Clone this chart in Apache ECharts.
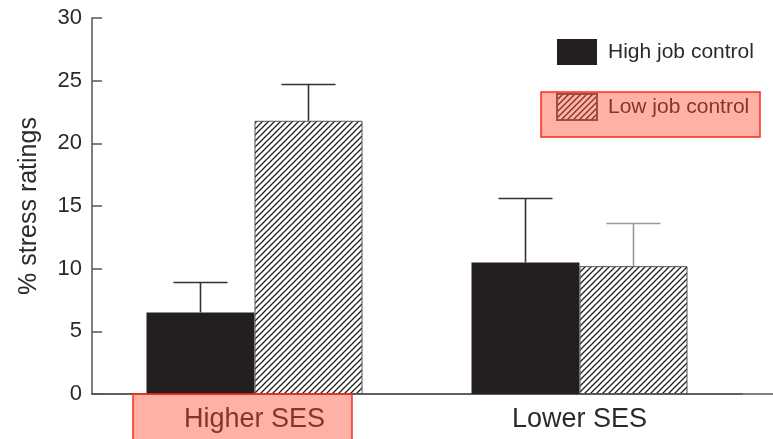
<!DOCTYPE html>
<html>
<head>
<meta charset="utf-8">
<script src="https://cdn.jsdelivr.net/npm/echarts@6/dist/echarts.min.js"></script>
<style>
html,body{margin:0;padding:0;background:#fff;}
#chart{width:773px;height:439px;}
</style>
</head>
<body>
<div id="chart"></div>
<script>
// ---- data ----
const categories = ['Higher SES', 'Lower SES'];
const seriesNames = ['High job control', 'Low job control'];
const highControl = [6.5, 10.5];
const lowControl = [21.8, 10.2];
const highControlErrTop = [8.9, 15.6];
const lowControlErrTop = [24.7, 13.6];
const yMin = 0, yMax = 30, yInterval = 5;
const yAxisName = '% stress ratings';

// ---- styles ----
const FONT = 'Liberation Sans, Arial, sans-serif';
const TXT = '#2a2a2a';
const AXIS = '#555';
const BAR_W = 108;
const CAP = 27;

function hatch(size, lw) {
  const c = document.createElement('canvas');
  c.width = size; c.height = size;
  const g = c.getContext('2d');
  g.fillStyle = '#fff'; g.fillRect(0, 0, size, size);
  g.strokeStyle = '#222'; g.lineWidth = lw;
  g.beginPath();
  g.moveTo(0, size); g.lineTo(size, 0);
  g.moveTo(-1, 1); g.lineTo(1, -1);
  g.moveTo(size - 1, size + 1); g.lineTo(size + 1, size - 1);
  g.stroke();
  return c;
}
const hatchFill = { image: hatch(6, 1.3), repeat: 'repeat' };

function errSeries(vals, tops, side, colors) {
  return {
    type: 'custom',
    name: 'err' + side,
    xAxisIndex: 0, yAxisIndex: 0,
    z: 5,
    data: vals.map((v, i) => [i, v, tops[i]]),
    renderItem: function (params, api) {
      const base = api.coord([api.value(0), api.value(1)]);
      const top = api.coord([api.value(0), api.value(2)]);
      const x = base[0] + side * BAR_W / 2;
      const st = { stroke: colors[params.dataIndex], lineWidth: 1.6 };
      return {
        type: 'group',
        children: [
          { type: 'line', shape: { x1: x, y1: base[1], x2: x, y2: top[1] }, style: st },
          { type: 'line', shape: { x1: x - CAP, y1: top[1], x2: x + CAP, y2: top[1] }, style: st }
        ]
      };
    }
  };
}

const chart = echarts.init(document.getElementById('chart'), null, { renderer: 'canvas' });
chart.setOption({
  animation: false,
  textStyle: { fontFamily: FONT },
  grid: [
    { left: 92, top: 18, height: 376, width: 650 },
    { left: 92, top: 18, height: 376, right: 0 }
  ],
  xAxis: [
    {
      type: 'category', gridIndex: 0, data: categories,
      axisLine: { show: true, lineStyle: { color: AXIS, width: 1.5 } },
      axisTick: { show: false },
      axisLabel: { fontSize: 27, color: TXT, margin: 12, fontFamily: FONT }
    },
    {
      type: 'value', gridIndex: 1, min: 0, max: 1,
      axisLine: { show: true, lineStyle: { color: AXIS, width: 1.5 } },
      axisTick: { show: false }, axisLabel: { show: false }, splitLine: { show: false }
    }
  ],
  yAxis: [
    {
      type: 'value', gridIndex: 0, min: yMin, max: yMax, interval: yInterval,
      axisLine: { show: true, lineStyle: { color: AXIS, width: 1.5 } },
      axisTick: { show: true, inside: true, length: 10, lineStyle: { color: AXIS, width: 1.5 } },
      splitLine: { show: false },
      axisLabel: { fontSize: 22, color: TXT, margin: 10, fontFamily: FONT },
      name: yAxisName, nameLocation: 'middle', nameGap: 50,
      nameTextStyle: { fontSize: 25, color: TXT, fontFamily: FONT }
    },
    { type: 'value', gridIndex: 1, min: 0, max: 1, show: false }
  ],
  legend: {
    data: seriesNames,
    orient: 'vertical', left: 556, top: 39, padding: 0,
    itemWidth: 40, itemHeight: 26, itemGap: 28,
    icon: 'rect',
    textStyle: { fontSize: 21, color: TXT, fontFamily: FONT, padding: [0, 0, 0, 6] }
  },
  series: [
    {
      type: 'bar', name: seriesNames[0], data: highControl,
      barWidth: BAR_W, barGap: '0%',
      itemStyle: { color: '#231f20' }
    },
    {
      type: 'bar', name: seriesNames[1], data: lowControl,
      barWidth: BAR_W, barGap: '0%',
      itemStyle: { color: hatchFill, borderColor: '#555', borderWidth: 1 }
    },
    errSeries(highControl, highControlErrTop, -1, ['#333', '#333']),
    errSeries(lowControl, lowControlErrTop, 1, ['#333', '#999'])
  ],
  graphic: [
    { type: 'rect', z: 100, shape: { x: 133, y: 394, width: 219, height: 52 },
      style: { fill: 'rgba(255,70,40,0.42)', stroke: '#ff2a1a', lineWidth: 1.5 } },
    { type: 'rect', z: 100, shape: { x: 541, y: 92, width: 219, height: 45 },
      style: { fill: 'rgba(255,70,40,0.42)', stroke: '#ff2a1a', lineWidth: 1.5 } }
  ]
});
</script>
</body>
</html>
